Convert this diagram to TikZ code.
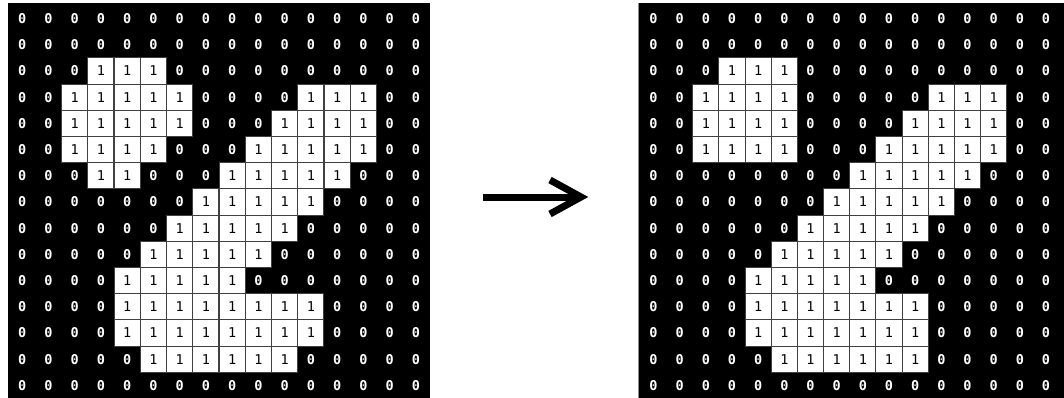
\documentclass[tikz,border=0pt]{standalone}
\usepackage{fontspec}
\setmonofont{DejaVu Sans Mono}
\begin{document}
\begin{tikzpicture}[x=1pt,y=-1pt,
  cellbase/.style={minimum width=26.2pt, minimum height=26.2pt, inner sep=0pt},
  c0/.style={cellbase, text=white, font=\fontsize{13.5}{13.5}\ttfamily\bfseries},
  c1/.style={cellbase, fill=white, draw=black!75, line width=1pt, text=black, font=\fontsize{13.5}{13.5}\ttfamily},
  arrowline/.style={line width=7pt, black}
]
\useasboundingbox (0,0) rectangle (1064,398);
\fill[white] (0,0) rectangle (1064,398);
\fill[black] (8,3) rectangle (430,398);
\fill[black] (638,3) rectangle (1064,398);
\draw[black!45, line width=0.8pt] (638.4,3) -- (638.4,398);
% left grid
\foreach \r/\row in {
 1/{0,0,0,0,0,0,0,0,0,0,0,0,0,0,0,0},
 2/{0,0,0,0,0,0,0,0,0,0,0,0,0,0,0,0},
 3/{0,0,0,1,1,1,0,0,0,0,0,0,0,0,0,0},
 4/{0,0,1,1,1,1,1,0,0,0,0,1,1,1,0,0},
 5/{0,0,1,1,1,1,1,0,0,0,1,1,1,1,0,0},
 6/{0,0,1,1,1,1,0,0,0,1,1,1,1,1,0,0},
 7/{0,0,0,1,1,0,0,0,1,1,1,1,1,0,0,0},
 8/{0,0,0,0,0,0,0,1,1,1,1,1,0,0,0,0},
 9/{0,0,0,0,0,0,1,1,1,1,1,0,0,0,0,0},
 10/{0,0,0,0,0,1,1,1,1,1,0,0,0,0,0,0},
 11/{0,0,0,0,1,1,1,1,1,0,0,0,0,0,0,0},
 12/{0,0,0,0,1,1,1,1,1,1,1,1,0,0,0,0},
 13/{0,0,0,0,1,1,1,1,1,1,1,1,0,0,0,0},
 14/{0,0,0,0,0,1,1,1,1,1,1,0,0,0,0,0},
 15/{0,0,0,0,0,0,0,0,0,0,0,0,0,0,0,0}} {
  \foreach \v [count=\c] in \row {
    \node[c\v] (L-\r-\c) at ({9+26.25*(\c-0.5)},{5.5+26.2*(\r-0.5)}) {\v};
  }
}
% right grid
\foreach \r/\row in {
 1/{0,0,0,0,0,0,0,0,0,0,0,0,0,0,0,0},
 2/{0,0,0,0,0,0,0,0,0,0,0,0,0,0,0,0},
 3/{0,0,0,1,1,1,0,0,0,0,0,0,0,0,0,0},
 4/{0,0,1,1,1,1,0,0,0,0,0,1,1,1,0,0},
 5/{0,0,1,1,1,1,0,0,0,0,1,1,1,1,0,0},
 6/{0,0,1,1,1,1,0,0,0,1,1,1,1,1,0,0},
 7/{0,0,0,0,0,0,0,0,1,1,1,1,1,0,0,0},
 8/{0,0,0,0,0,0,0,1,1,1,1,1,0,0,0,0},
 9/{0,0,0,0,0,0,1,1,1,1,1,0,0,0,0,0},
 10/{0,0,0,0,0,1,1,1,1,1,0,0,0,0,0,0},
 11/{0,0,0,0,1,1,1,1,1,0,0,0,0,0,0,0},
 12/{0,0,0,0,1,1,1,1,1,1,1,0,0,0,0,0},
 13/{0,0,0,0,1,1,1,1,1,1,1,0,0,0,0,0},
 14/{0,0,0,0,0,1,1,1,1,1,1,0,0,0,0,0},
 15/{0,0,0,0,0,0,0,0,0,0,0,0,0,0,0,0}} {
  \foreach \v [count=\c] in \row {
    \node[c\v] (R-\r-\c) at ({640.4+26.17*(\c-0.5)},{5.5+26.2*(\r-0.5)}) {\v};
  }
}
% arrow
\coordinate (atail) at (483,197);
\coordinate (ashaft) at (578,197);
\coordinate (ahead) at (581,197);
\coordinate (abarb1) at (550,180);
\coordinate (abarb2) at (550,214);
\draw[arrowline] (atail) -- (ashaft);
\draw[arrowline, line join=miter, miter limit=10] (abarb1) -- (ahead) -- (abarb2);
\end{tikzpicture}
\end{document}
